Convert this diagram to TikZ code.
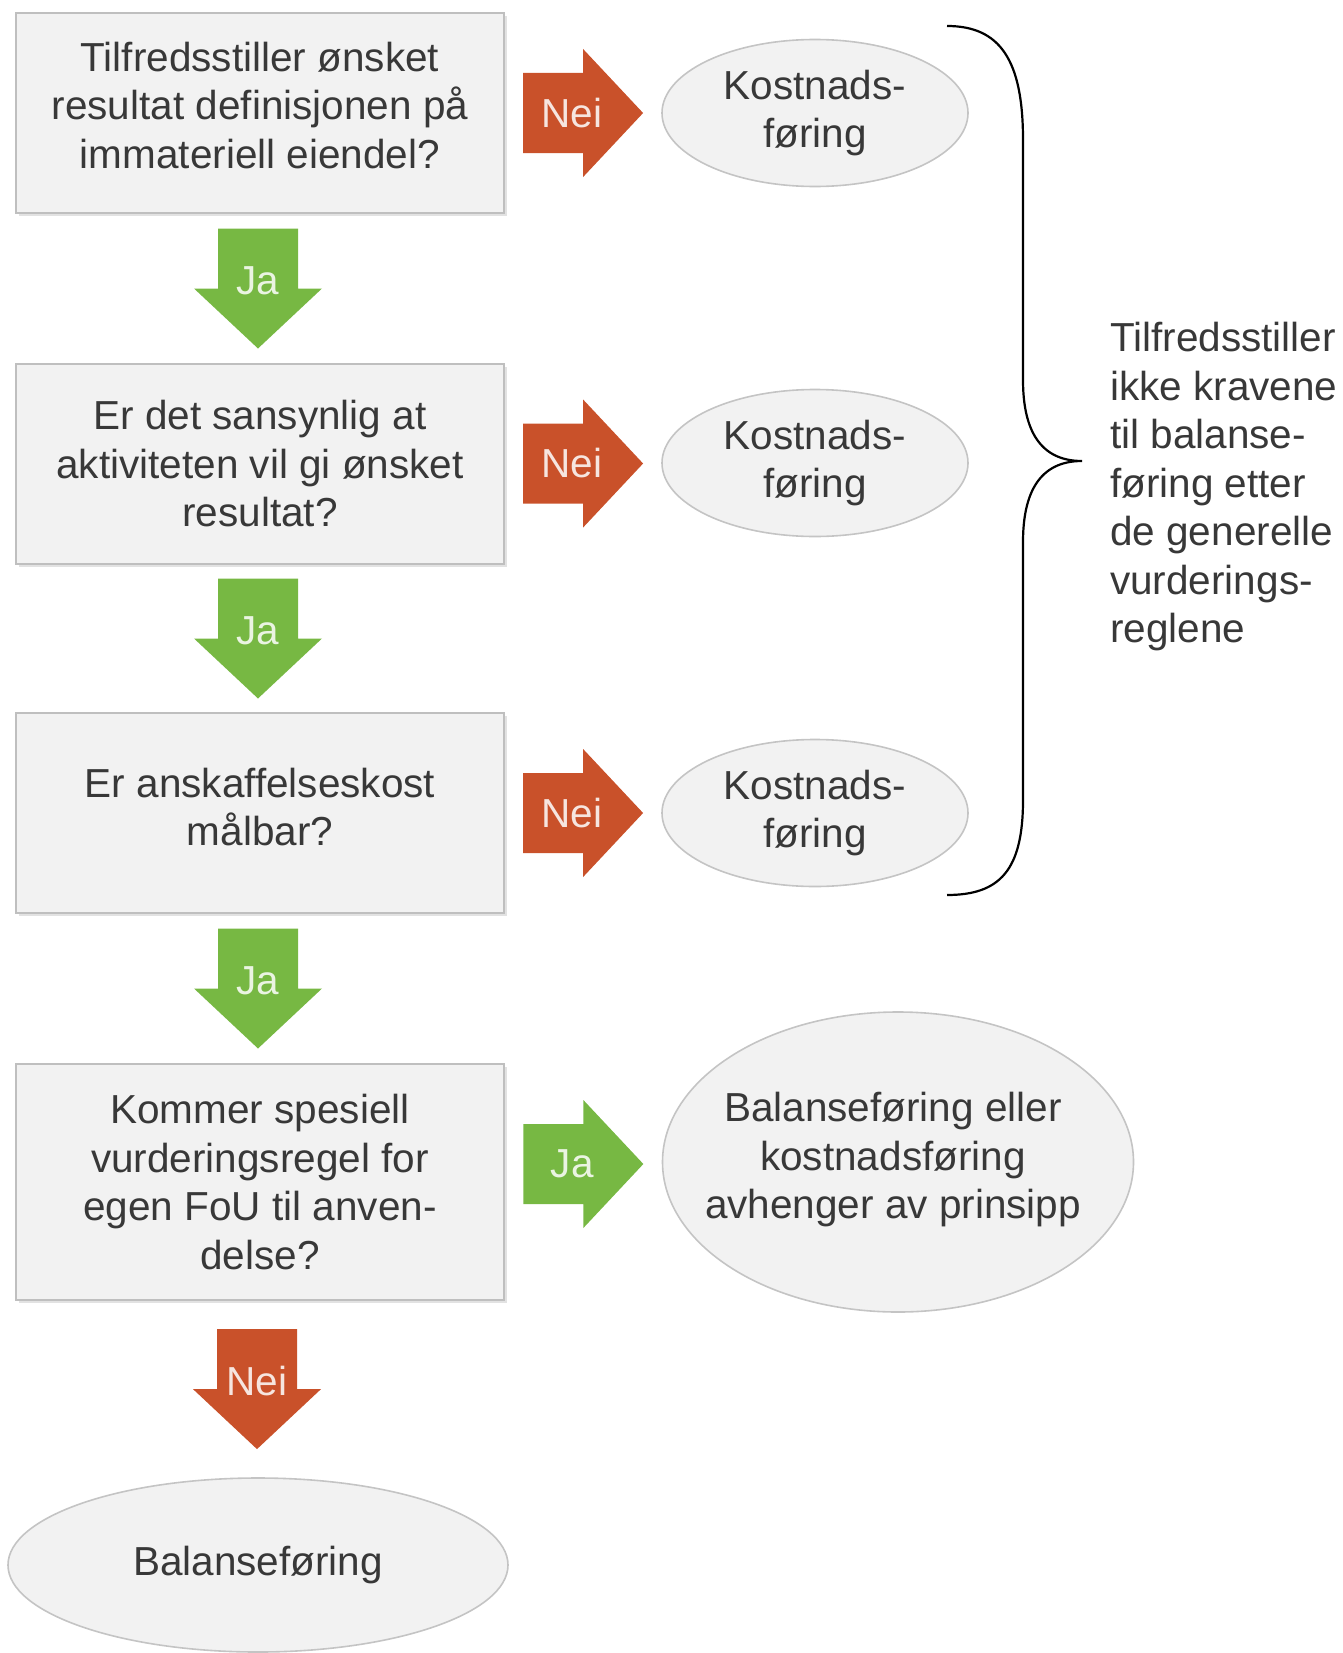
\documentclass[tikz,border=0pt]{standalone}
\usepackage{fontspec}
\setmainfont{Liberation Sans}
\usetikzlibrary{shapes.geometric,calc,shadows}
\definecolor{boxfill}{HTML}{F2F2F2}
\definecolor{boxline}{HTML}{BFBFBF}
\definecolor{shadowc}{HTML}{E2E2E2}
\definecolor{ellline}{HTML}{C4C4C4}
\definecolor{neic}{HTML}{C9512A}
\definecolor{jac}{HTML}{77B843}
\definecolor{txt}{HTML}{383838}
\newcommand\blkarrowR[3]{%
  \fill[#2] ($(#1)+(-60,-40)$) -- ($(#1)+(0,-40)$) -- ($(#1)+(0,-64)$) -- ($(#1)+(60,0)$) -- ($(#1)+(0,64)$) -- ($(#1)+(0,40)$) -- ($(#1)+(-60,40)$) -- cycle;
  \node[arrowlabel] (#1-l) at ($(#1)+(-11,0)$) {#3};}
\newcommand\blkarrowD[3]{%
  \fill[#2] ($(#1)+(-40,-60)$) -- ($(#1)+(40,-60)$) -- ($(#1)+(40,0)$) -- ($(#1)+(64,0)$) -- ($(#1)+(0,60)$) -- ($(#1)+(-64,0)$) -- ($(#1)+(-40,0)$) -- cycle;
  \node[arrowlabel] (#1-l) at ($(#1)+(0,-8)$) {#3};}
\tikzset{
  mainfont/.style={font=\fontsize{40.5bp}{48.5bp}\selectfont},
  qbox/.style={mainfont, rectangle, draw=boxline, line width=2bp, fill=boxfill,
    minimum width=488bp, minimum height=200bp, inner sep=0pt, align=center, text=txt,
    general shadow={fill=shadowc, shadow xshift=3bp, shadow yshift=-3bp}},
  oval/.style={mainfont, ellipse, draw=ellline, line width=1.6bp, fill=boxfill,
    inner sep=0pt, align=center, text=txt},
  ovaltext/.style={mainfont, inner sep=0pt, align=center, text=txt},
  arrowlabel/.style={mainfont, text=white, text opacity=0.85, inner sep=0pt},
  note/.style={mainfont, align=left, text=txt, inner sep=0pt},
  bracestyle/.style={draw=black, line width=2.2bp}
}
\begin{document}
\begin{tikzpicture}[x=1bp,y=-1bp]
\useasboundingbox (0,0) rectangle (1343,1653);
% question boxes
\node[qbox, text depth=16bp] (b1) at (260,113) {Tilfredsstiller ønsket\\resultat definisjonen på\\immateriell eiendel?};
\node[qbox] (b2) at (260,464) {Er det sansynlig at\\aktiviteten vil gi ønsket\\resultat?};
\node[qbox, text depth=12bp] (b3) at (260,813) {Er anskaffelseskost\\målbar?};
\node[qbox, minimum height=236bp] (b4) at (260,1182) {Kommer spesiell\\vurderingsregel for\\egen FoU til anven-\\delse?};
% outcome ellipses
\node[oval, minimum width=306bp, minimum height=147bp] (k1) at (815,113) {Kostnads-\\føring};
\node[oval, minimum width=306bp, minimum height=147bp] (k2) at (815,463) {Kostnads-\\føring};
\node[oval, minimum width=306bp, minimum height=147bp] (k3) at (815,813) {Kostnads-\\føring};
\node[oval, minimum width=471bp, minimum height=300bp] (bk) at (898,1162) {};
\node[ovaltext] (bkt) at ($(bk.center)+(-5,-2)$) {Balanseføring eller\\kostnadsføring\\avhenger av prinsipp};
\node[oval, minimum width=500bp, minimum height=174bp] (bal) at (258,1565) {Balanseføring};
% block arrows
\coordinate (r1) at ($(b1.east)!0.5!(k1.west)$);
\coordinate (r2) at ($(b2.east)!0.5!(k2.west)$);
\coordinate (r3) at ($(b3.east)!0.5!(k3.west)$);
\coordinate (r4) at ($(b4.east |- bk.west)!0.5!(bk.west)+(0,2)$);
\coordinate (d1) at ($(b1.south)!0.5!(b2.north)+(-2,0)$);
\coordinate (d2) at ($(b2.south)!0.5!(b3.north)+(-2,0)$);
\coordinate (d3) at ($(b3.south)!0.5!(b4.north)+(-2,0)$);
\coordinate (d4) at ($(b4.south)!0.5!(bal.north)+(-2,0)$);
\blkarrowR{r1}{neic}{Nei}
\blkarrowR{r2}{neic}{Nei}
\blkarrowR{r3}{neic}{Nei}
\blkarrowR{r4}{jac}{Ja}
\blkarrowD{d1}{jac}{Ja}
\blkarrowD{d2}{jac}{Ja}
\blkarrowD{d3}{jac}{Ja}
\blkarrowD{d4}{neic}{Nei}
% brace and note
\coordinate (bt) at (947,26);
\coordinate (bb) at (947,895);
\coordinate (tip) at (1082,461);
\draw[bracestyle] (bt) .. controls (1000,26) and (1023,60) .. (1023,140) -- (1023,380)
  .. controls (1023,430) and (1040,461) .. (tip)
  .. controls (1040,461) and (1023,492) .. (1023,542) -- (1023,800)
  .. controls (1023,870) and (1000,895) .. (bb);
\node[note, anchor=west] (nt) at (1110,487) {Tilfredsstiller\\ikke kravene\\til balanse-\\føring etter\\de generelle\\vurderings-\\reglene};
\end{tikzpicture}
\end{document}
